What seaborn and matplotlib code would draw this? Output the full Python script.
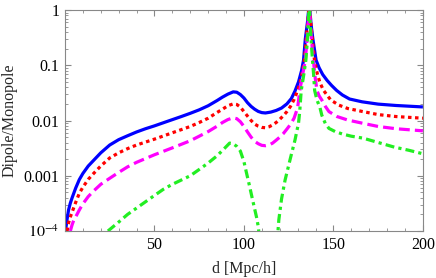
import numpy as np
import pandas as pd
import matplotlib
matplotlib.use('Agg')
import matplotlib.pyplot as plt
import matplotlib.ticker as mticker
import seaborn as sns

# data (d in Mpc/h, ratio Dipole/Monopole)
blue_d = [0.3, 1, 2, 3, 4, 6, 8, 10, 13, 16, 20, 25, 30, 35, 40, 45, 50, 57, 65, 70, 75, 80, 85, 88, 91,
          94, 96, 98, 100, 102, 104, 106, 108, 110, 112, 115, 118, 121, 124, 126.5, 128.5, 130.5, 132.2,
          133.3, 134.3, 135.5, 136.5, 137.5, 138.5, 140.3, 142, 144, 146.5, 149, 151.8, 155, 159, 166, 175,
          185, 200]
blue_v = [1.0e-4, 1.5e-4, 2.4e-4, 3.2e-4, 4.0e-4, 6.0e-4, 8.5e-4, 1.1e-3, 1.5e-3, 1.9e-3, 2.6e-3, 3.6e-3,
          4.5e-3, 5.3e-3, 6.2e-3, 7.1e-3, 8.0e-3, 9.6e-3, 1.18e-2, 1.35e-2, 1.56e-2, 1.85e-2, 2.3e-2,
          2.65e-2, 3.0e-2, 3.3e-2, 3.25e-2, 2.95e-2, 2.55e-2, 2.1e-2, 1.8e-2, 1.6e-2, 1.46e-2, 1.39e-2,
          1.37e-2, 1.42e-2, 1.52e-2, 1.68e-2, 2.0e-2, 2.5e-2, 3.4e-2, 5.0e-2, 8.0e-2, 1.24e-1, 3.0e-1,
          6.0e-1, 1.3, 5.5e-1, 3.0e-1, 1.24e-1, 9.0e-2, 6.8e-2, 5.3e-2, 4.3e-2, 3.5e-2, 2.9e-2, 2.45e-2,
          2.18e-2, 1.98e-2, 1.87e-2, 1.76e-2]

red_d = [1.2, 2, 3, 4, 6, 8, 10, 13, 16, 20, 25, 30, 35, 40, 50, 60, 70, 75, 80, 85, 88, 91, 94, 96, 98,
         100, 102, 104, 106, 108, 110, 112, 114, 116, 118, 120, 122, 124, 126, 128, 130, 131.5, 132.8, 133.8,
         134.8, 135.7, 136.5, 137.3, 138.2, 139.4, 141, 142.5, 144.5, 148.5, 153, 158, 166.5, 175, 185, 200]
red_v = [1.0e-4, 1.4e-4, 1.8e-4, 2.2e-4, 3.3e-4, 4.8e-4, 6.2e-4, 8.6e-4, 1.1e-3, 1.5e-3, 2.1e-3, 2.6e-3,
         3.1e-3, 3.6e-3, 4.6e-3, 6.0e-3, 7.8e-3, 9.2e-3, 1.1e-2, 1.4e-2, 1.6e-2, 1.85e-2, 2.0e-2, 1.95e-2,
         1.75e-2, 1.45e-2, 1.2e-2, 1.0e-2, 8.6e-3, 7.9e-3, 7.5e-3, 7.4e-3, 7.7e-3, 8.3e-3, 9.2e-3, 1.05e-2,
         1.22e-2, 1.45e-2, 1.8e-2, 2.4e-2, 3.5e-2, 5.0e-2, 8.0e-2, 1.24e-1, 3.0e-1, 6.0e-1, 1.3, 6.0e-1,
         3.0e-1, 1.24e-1, 7.0e-2, 4.8e-2, 3.5e-2, 2.35e-2, 1.9e-2, 1.65e-2, 1.45e-2, 1.28e-2, 1.18e-2, 1.1e-2]

mag_d = [3, 4, 5, 6, 8, 10, 13, 16, 20, 25, 30, 35, 40, 50, 60, 70, 75, 80, 85, 88, 91, 94, 96, 98, 100,
         102, 104, 106, 108, 110, 112, 114, 116, 118, 120, 122, 124, 126, 128, 130, 131.2, 132.5, 133.5,
         134.3, 135.3, 135.9, 136.5, 137.1, 137.7, 138.8, 139.8, 140.8, 142, 143.5, 145.5, 147.5, 152, 158,
         166.5, 175, 185, 200]
mag_v = [1.0e-4, 1.3e-4, 1.6e-4, 1.8e-4, 2.4e-4, 3.1e-4, 4.2e-4, 5.3e-4, 7.0e-4, 9.0e-4, 1.15e-3, 1.45e-3,
         1.75e-3, 2.4e-3, 3.2e-3, 4.3e-3, 5.2e-3, 6.3e-3, 7.9e-3, 9.2e-3, 1.04e-2, 1.12e-2, 1.08e-2, 9.5e-3,
         7.8e-3, 6.2e-3, 5.0e-3, 4.2e-3, 3.8e-3, 3.55e-3, 3.5e-3, 3.6e-3, 3.9e-3, 4.4e-3, 5.0e-3, 5.8e-3,
         7.0e-3, 8.5e-3, 1.1e-2, 1.7e-2, 3.5e-2, 6.0e-2, 9.0e-2, 1.24e-1, 3.0e-1, 6.0e-1, 1.3, 6.0e-1,
         3.0e-1, 1.24e-1, 6.0e-2, 3.5e-2, 2.8e-2, 2.35e-2, 1.8e-2, 1.45e-2, 1.18e-2, 1.02e-2, 8.9e-3,
         7.8e-3, 7.1e-3, 6.5e-3]

# green changes sign between ~109 and ~118.5, so it is drawn in two pieces
green1_d = [24, 30, 35, 40, 50, 55, 60, 70, 75, 80, 85, 89, 92, 94, 96, 98, 100, 101.5, 103, 104.5, 106,
            107, 108, 109]
green1_v = [1.0e-4, 1.45e-4, 2.0e-4, 2.6e-4, 4.4e-4, 5.7e-4, 7.0e-4, 1.0e-3, 1.3e-3, 1.7e-3, 2.3e-3,
            3.1e-3, 3.9e-3, 3.8e-3, 3.4e-3, 2.8e-3, 1.8e-3, 1.1e-3, 6.8e-4, 4.1e-4, 2.5e-4, 1.8e-4,
            1.2e-4, 6e-5]
green2_d = [118.5, 119.5, 121, 123, 126, 128.5, 130.5, 131.2, 132, 133.5, 134.6, 135.5, 136, 136.5, 137,
            137.5, 138.3, 138.9, 139.5, 140.8, 142.5, 143.5, 145.5, 147.5, 151, 155, 160, 166.5, 175, 184,
            192, 200]
green2_v = [6e-5, 1.6e-4, 3.8e-4, 8.4e-4, 2.1e-3, 4.4e-3, 9.0e-3, 1.5e-2, 3.5e-2, 7.0e-2, 1.24e-1, 3.0e-1,
            6.0e-1, 1.3, 6.0e-1, 3.0e-1, 1.24e-1, 7.0e-2, 3.5e-2, 2.35e-2, 1.7e-2, 1.25e-2, 8.8e-3, 7.2e-3,
            6.3e-3, 5.7e-3, 5.2e-3, 4.8e-3, 4.0e-3, 3.3e-3, 2.9e-3, 2.5e-3]

sns.set_style('ticks')
plt.rcParams['font.family'] = ['Liberation Serif', 'DejaVu Serif']
plt.rcParams['mathtext.fontset'] = 'stix'

fig = plt.figure(figsize=(4.36, 2.78), dpi=100)
ax = fig.add_axes([0.149, 0.169, 0.821, 0.795])

lw = 2.3
sns.lineplot(x=blue_d, y=blue_v, color='#0000ff', lw=lw, ax=ax, solid_capstyle='butt')
sns.lineplot(x=red_d, y=red_v, color='#ff0000', lw=lw, ax=ax, linestyle=(0, (1.1, 1.1)),
             dash_capstyle='butt')
sns.lineplot(x=mag_d, y=mag_v, color='#ff00ff', lw=lw, ax=ax, linestyle=(0, (3.4, 1.6)),
             dash_capstyle='butt')
sns.lineplot(x=green1_d, y=green1_v, color='#22ee22', lw=lw, ax=ax,
             linestyle=(0, (2.8, 1.3, 1.0, 1.3)), dash_capstyle='butt')
sns.lineplot(x=green2_d, y=green2_v, color='#22ee22', lw=lw, ax=ax,
             linestyle=(0, (2.8, 1.3, 1.0, 1.3)), dash_capstyle='butt')

ax.set_yscale('log')
ax.set_xlim(0, 200)
ax.set_ylim(1e-4, 1)
ax.set_xticks([50, 100, 150, 200])
ax.set_xticklabels(['50', '100', '150', '200'])
ax.xaxis.set_minor_locator(mticker.MultipleLocator(10))
ax.set_yticks([1e-4, 1e-3, 1e-2, 1e-1, 1])
ax.set_yticklabels([r'$10^{-4}$', '0.001', '0.01', '0.1', '1'])
ax.yaxis.set_minor_locator(mticker.LogLocator(base=10, subs=np.arange(2, 10)))
ax.yaxis.set_minor_formatter(mticker.NullFormatter())

frame = '#888888'
for s in ax.spines.values():
    s.set_color(frame)
    s.set_linewidth(0.8)
ax.tick_params(which='both', direction='in', top=True, right=True, color=frame, labelsize=11.5,
               labelcolor='black')
ax.tick_params(which='major', length=4.5, width=0.8, pad=4)
ax.tick_params(which='minor', length=2.3, width=0.6)

ax.set_xlabel('d [Mpc/h]', fontsize=11.5, labelpad=6)
ax.set_ylabel('Dipole/Monopole', fontsize=11.5)

fig.savefig('out.png', dpi=100)
